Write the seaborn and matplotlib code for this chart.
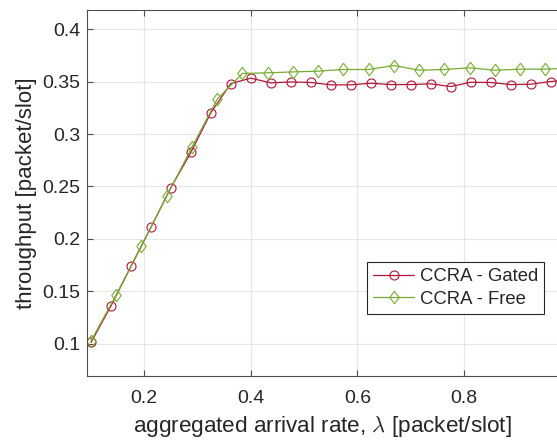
import numpy as np
import pandas as pd
import matplotlib
matplotlib.use('Agg')
import matplotlib.pyplot as plt
import seaborn as sns

# CCRA - Gated: 25 load points, 0.1 .. 1.0
gated_x = [0.1, 0.1375, 0.175, 0.2125, 0.25, 0.2875, 0.325, 0.3625, 0.4,
           0.4375, 0.475, 0.5125, 0.55, 0.5875, 0.625, 0.6625, 0.7, 0.7375,
           0.775, 0.8125, 0.85, 0.8875, 0.925, 0.9625, 1.0]
gated_y = [0.101, 0.136, 0.1737, 0.211, 0.249, 0.2826, 0.3205, 0.3483, 0.3534,
           0.3489, 0.3498, 0.3493, 0.347, 0.347, 0.3486, 0.3473, 0.3473, 0.348,
           0.3454, 0.3495, 0.3493, 0.3473, 0.3476, 0.3502, 0.352]

# CCRA - Free: 20 load points, 0.1 .. 1.0
free_x = [0.1, 0.1474, 0.1947, 0.2421, 0.2895, 0.3368, 0.3842, 0.4316, 0.4789,
          0.5263, 0.5737, 0.6211, 0.6684, 0.7158, 0.7632, 0.8105, 0.8579,
          0.9053, 0.9526, 1.0]
free_y = [0.1026, 0.1466, 0.1935, 0.2407, 0.2876, 0.3333, 0.3579, 0.3585, 0.3594,
          0.3601, 0.3617, 0.3617, 0.3655, 0.361, 0.3617, 0.3633, 0.361, 0.362,
          0.362, 0.363]

x_ticks = [0.2, 0.4, 0.6, 0.8]
y_ticks = [0.1, 0.15, 0.2, 0.25, 0.3, 0.35, 0.4]

GATED_COLOR = '#B0163A'
FREE_COLOR = '#77AC30'
TEXT_COLOR = '#262626'

# matlab style diamond, a bit taller than wide
DIAMOND = [(0, 1), (0.75, 0), (0, -1), (-0.75, 0), (0, 1)]


def main():
    sns.set_style('whitegrid')
    plt.rcParams['font.family'] = ['Liberation Sans', 'DejaVu Sans']
    plt.rcParams['mathtext.fontset'] = 'cm'

    fig = plt.figure(figsize=(5.57, 4.41), dpi=100)
    ax = fig.add_axes([87.3 / 557, 65 / 441, (557 - 87.3) / 557, 366 / 441])

    gated = pd.DataFrame({'x': gated_x, 'y': gated_y})
    free = pd.DataFrame({'x': free_x, 'y': free_y})

    sns.lineplot(data=gated, x='x', y='y', ax=ax, color=GATED_COLOR, lw=0.9,
                 marker='o', markersize=6.5, markerfacecolor='none',
                 markeredgecolor=GATED_COLOR, markeredgewidth=0.8,
                 label='CCRA - Gated')
    sns.lineplot(data=free, x='x', y='y', ax=ax, color=FREE_COLOR, lw=0.9,
                 marker=DIAMOND, markersize=9, markerfacecolor='none',
                 markeredgecolor=FREE_COLOR, markeredgewidth=0.8,
                 label='CCRA - Free')

    ax.set_xlim(0.093, 0.9746)
    ax.set_ylim(0.069, 0.4185)
    ax.set_xticks(x_ticks)
    ax.set_xticklabels([f'{t:g}' for t in x_ticks])
    ax.set_yticks(y_ticks)
    ax.set_yticklabels([f'{t:g}' for t in y_ticks])

    ax.grid(True, color='#e6e6e6', lw=0.8)
    for side in ['left', 'top', 'bottom']:
        ax.spines[side].set_color('#4d4d4d')
        ax.spines[side].set_linewidth(0.8)
    ax.spines['right'].set_visible(False)

    ax.tick_params(direction='in', length=4, width=0.8, color='#4d4d4d',
                   labelsize=14, labelcolor=TEXT_COLOR, top=True, bottom=True,
                   left=True, right=False)
    ax.tick_params(axis='x', pad=10)
    ax.tick_params(axis='y', pad=5)

    ax.set_xlabel(r'aggregated arrival rate, $\lambda$ [packet/slot]',
                  fontsize=16.2, color=TEXT_COLOR, labelpad=5)
    ax.set_ylabel('throughput [packet/slot]', fontsize=16,
                  color=TEXT_COLOR, labelpad=4)

    leg = ax.legend(loc='lower right', bbox_to_anchor=(0.973, 0.169),
                    borderaxespad=0, fontsize=13.3, frameon=True, fancybox=False,
                    handlelength=2.2, handletextpad=0.3, labelspacing=0.3,
                    borderpad=0.35)
    leg.get_frame().set_edgecolor('#262626')
    leg.get_frame().set_linewidth(0.8)
    leg.get_frame().set_alpha(1)

    fig.savefig('out.png', dpi=100)


if __name__ == '__main__':
    main()
